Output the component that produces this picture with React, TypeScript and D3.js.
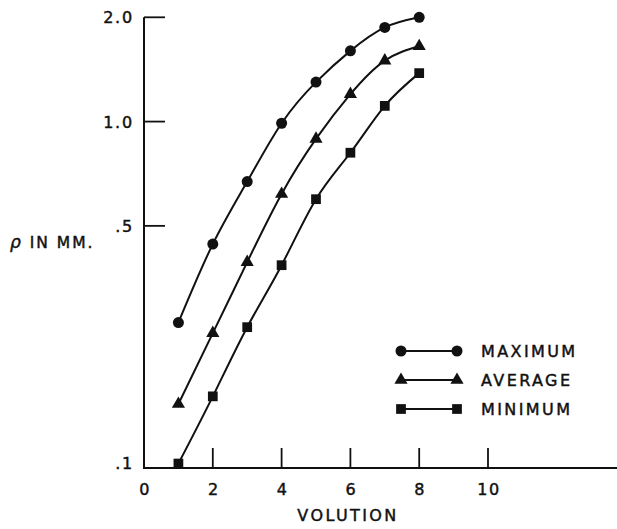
import * as d3 from "d3";

// volution number and rho (mm)
const volutions = [1, 2, 3, 4, 5, 6, 7, 8];
const maximumRho = [0.263, 0.443, 0.671, 0.989, 1.3, 1.6, 1.87, 2.0];
const averageRho = [0.153, 0.245, 0.393, 0.618, 0.891, 1.2, 1.5, 1.65];
const minimumRho = [0.103, 0.161, 0.255, 0.385, 0.597, 0.813, 1.11, 1.38];

const xTickValues = [0, 2, 4, 6, 8, 10];
const yTickValues = [2, 1, 0.5, 0.1];
const yTickLabels = ["2.0", "1.0", ".5", ".1"];

const seriesNames = ["MAXIMUM", "AVERAGE", "MINIMUM"];
const seriesValues = [maximumRho, averageRho, minimumRho];
const seriesSymbols = [d3.symbolCircle, d3.symbolTriangle, d3.symbolSquare];
const symbolSizes = [95, 75, 95];

const W = 617;
const H = 529;
const font = "'DejaVu Sans', Verdana, sans-serif";
const ink = "#111";

export default function App() {
  const x = d3.scaleLinear().domain([0, 10]).range([144, 488]);
  const y = d3.scaleLog().domain([0.1, 2]).range([468, 17.3]);

  const line = d3
    .line<number>()
    .x((_, i) => x(volutions[i]))
    .y((d) => y(d))
    .curve(d3.curveNatural);

  const legendX1 = 401;
  const legendX2 = 457;
  const legendRows = [351, 380, 409];

  // slightly heavier lettering, like the printed figure
  const textStyle = { stroke: ink, strokeWidth: 0.45 };

  return (
    <svg
      width={W}
      height={H}
      style={{ position: "absolute", left: 0, top: 0, background: "#fff" }}
      fontFamily={font}
    >
      {/* axes */}
      <line x1={x(0)} x2={x(0)} y1={y(2)} y2={y(0.1)} stroke={ink} strokeWidth={2} />
      <line x1={x(0) - 1} x2={W} y1={y(0.1)} y2={y(0.1)} stroke={ink} strokeWidth={2} />

      {/* y ticks */}
      {yTickValues.map((v, i) => (
        <g key={"yt" + i}>
          {v !== 0.1 && (
            <line x1={x(0)} x2={x(0) + 21} y1={y(v)} y2={y(v)} stroke={ink} strokeWidth={1.8} />
          )}
          <text
            x={134}
            y={v === 0.1 ? y(v) + 1 : y(v) + 6}
            textAnchor="end"
            fontSize={16}
            letterSpacing={1.8}
            fill={ink}
            style={textStyle}
          >
            {yTickLabels[i]}
          </text>
        </g>
      ))}

      {/* x ticks */}
      {xTickValues.map((v) => (
        <g key={"xt" + v}>
          {v !== 0 && (
            <line x1={x(v)} x2={x(v)} y1={y(0.1)} y2={y(0.1) - 20} stroke={ink} strokeWidth={1.8} />
          )}
          <text x={x(v) + 1} y={495} textAnchor="middle" fontSize={16} letterSpacing={1.5} fill={ink} style={textStyle}>
            {v}
          </text>
        </g>
      ))}

      <text x={348} y={521} textAnchor="middle" fontSize={16} letterSpacing={2.4} fill={ink} style={textStyle}>
        VOLUTION
      </text>
      <text x={10} y={248} fontSize={15.5} letterSpacing={2} fill={ink} style={textStyle}>
        <tspan fontStyle="italic" fontSize={17}>ρ</tspan> IN MM.
      </text>

      {/* series */}
      {seriesValues.map((vals, s) => (
        <g key={"s" + s}>
          <path d={line(vals) || ""} fill="none" stroke={ink} strokeWidth={2} />
          {vals.map((v, i) => (
            <path
              key={i}
              transform={`translate(${x(volutions[i])},${y(v)})`}
              d={d3.symbol(seriesSymbols[s], symbolSizes[s])() || ""}
              fill={ink}
            />
          ))}
        </g>
      ))}

      {/* legend */}
      {seriesNames.map((name, s) => (
        <g key={"lg" + s}>
          <line x1={legendX1} x2={legendX2} y1={legendRows[s]} y2={legendRows[s]} stroke={ink} strokeWidth={1.8} />
          {[legendX1, legendX2].map((lx) => (
            <path
              key={lx}
              transform={`translate(${lx},${legendRows[s]})`}
              d={d3.symbol(seriesSymbols[s], symbolSizes[s])() || ""}
              fill={ink}
            />
          ))}
          <text x={481} y={legendRows[s] + 6} fontSize={16} letterSpacing={2.4} fill={ink} style={textStyle}>
            {name}
          </text>
        </g>
      ))}
    </svg>
  );
}
